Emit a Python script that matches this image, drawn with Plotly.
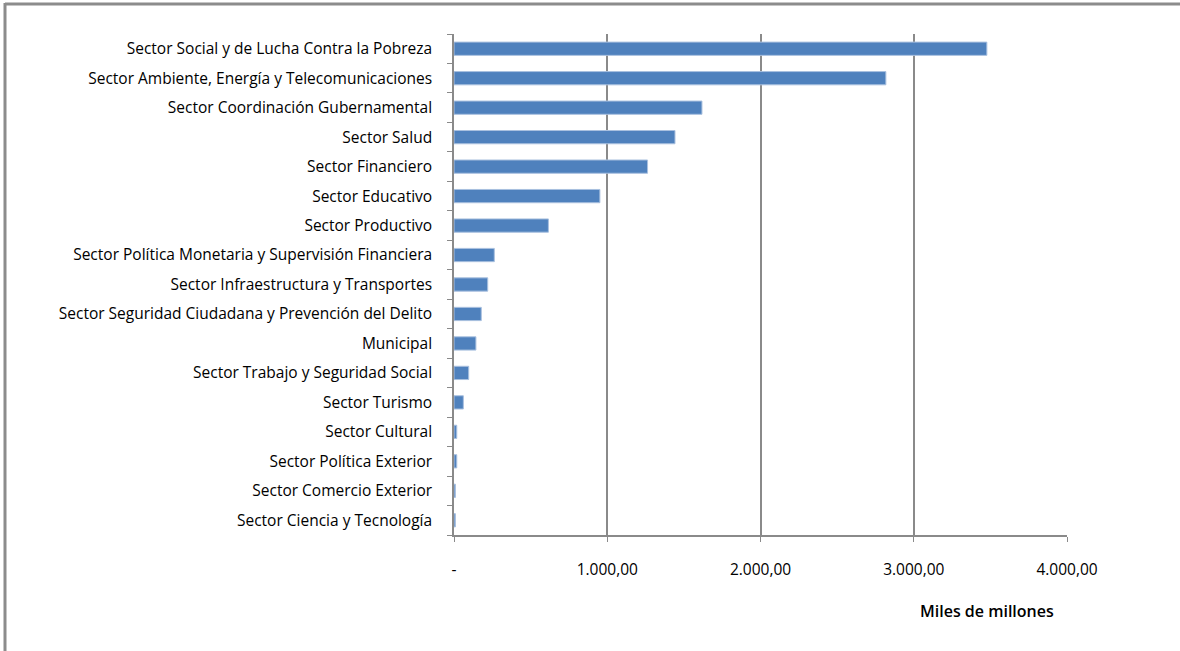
import plotly.graph_objects as go

categories = [
    "Sector Social y de Lucha Contra la Pobreza",
    "Sector Ambiente, Energía y Telecomunicaciones",
    "Sector Coordinación Gubernamental",
    "Sector Salud",
    "Sector Financiero",
    "Sector Educativo",
    "Sector Productivo",
    "Sector Política Monetaria y Supervisión Financiera",
    "Sector Infraestructura y Transportes",
    "Sector Seguridad Ciudadana y Prevención del Delito",
    "Municipal",
    "Sector Trabajo y Seguridad Social",
    "Sector Turismo",
    "Sector Cultural",
    "Sector Política Exterior",
    "Sector Comercio Exterior",
    "Sector Ciencia y Tecnología",
]
values = [3477, 2818, 1618, 1442, 1263, 952, 616, 263, 220, 178, 143, 96, 61, 18, 18, 9, 9]

tick_vals = [0, 1000, 2000, 3000, 4000]
tick_text = ["-", "1.000,00", "2.000,00", "3.000,00", "4.000,00"]
x_title = "Miles de millones"

FONT = "Open Sans"
GRID = "#8a8a8a"

fig = go.Figure(go.Bar(
    x=values,
    y=categories,
    orientation="h",
    marker=dict(color="#4F81BD", line=dict(color="#a9c0df", width=1)),
    width=0.45,
    hoverinfo="x+y",
))

fig.update_layout(
    width=1180, height=651,
    margin=dict(l=454, r=113, t=34, b=116),
    paper_bgcolor="white",
    plot_bgcolor="white",
    showlegend=False,
    font=dict(family=FONT, size=15.5, color="#000000"),
    xaxis=dict(
        range=[0, 4000],
        tickvals=tick_vals,
        ticktext=tick_text,
        showgrid=True,
        gridcolor=GRID,
        gridwidth=1.5,
        zeroline=False,
        showline=True,
        linecolor=GRID,
        linewidth=1.5,
        ticks="outside",
        ticklen=5,
        tickcolor=GRID,
        tickfont=dict(family=FONT, size=15.5),
        ticklabelstandoff=15,
        fixedrange=True,
    ),
    yaxis=dict(
        categoryorder="array",
        categoryarray=categories[::-1],
        showgrid=False,
        zeroline=False,
        showline=True,
        linecolor=GRID,
        linewidth=1.5,
        ticks="outside",
        ticklen=5,
        tickcolor=GRID,
        tickson="boundaries",
        tickfont=dict(family=FONT, size=15.5),
        ticklabelstandoff=17,
        fixedrange=True,
    ),
    annotations=[dict(
        text=x_title,
        xref="paper", yref="paper",
        x=(987 - 454) / 613, y=-(611 - 535) / 501,
        xanchor="center", yanchor="middle",
        showarrow=False,
        font=dict(family=FONT, size=16, weight=600, color="#000000"),
    )],
    shapes=[
        dict(type="line", xref="paper", yref="paper",
             x0=(5 - 454) / 613, x1=(1180 - 454) / 613,
             y0=(535 - 4) / 501, y1=(535 - 4) / 501,
             line=dict(color="#8c8c8c", width=3)),
        dict(type="line", xref="paper", yref="paper",
             x0=(5 - 454) / 613, x1=(5 - 454) / 613,
             y0=(535 - 3) / 501, y1=(535 - 660) / 501,
             line=dict(color="#8c8c8c", width=3)),
    ],
)

fig.write_html(
    "out.html",
    config={"displayModeBar": False},
    post_script="document.body.style.margin='0';document.body.style.padding='0';",
)
